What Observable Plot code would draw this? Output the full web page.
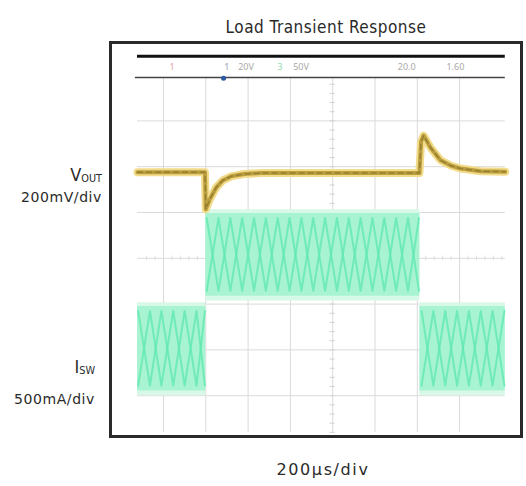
<!DOCTYPE html>
<html><head><meta charset="utf-8">
<script src="https://cdn.jsdelivr.net/npm/d3@7"></script>
<script src="https://cdn.jsdelivr.net/npm/@observablehq/plot@0.6"></script>
<style>
body{margin:0;background:#fff;font-family:"DejaVu Sans Condensed","DejaVu Sans",sans-serif;}
#wrap{position:relative;width:526px;height:486px;overflow:hidden;background:#fff;}
.lbl{position:absolute;color:#2a2a2a;white-space:nowrap;line-height:1;}
.u{font-family:"DejaVu Sans",sans-serif;font-size:14px;letter-spacing:0.6px;}
#chart{position:absolute;left:0;top:40px;}
#frame{position:absolute;left:109px;top:41px;width:414px;height:397px;border:3px solid #2a2a2a;box-sizing:border-box;pointer-events:none;}
sub{font-size:0.6em;vertical-align:-0.1em;}
</style></head><body>
<div id="wrap">
  <div class="lbl" style="left:0;width:652px;top:19px;text-align:center;font-size:17px;letter-spacing:0.5px;">Load Transient Response</div>
  <div id="chart"></div>
  <div id="frame"></div>
  <div class="lbl" style="right:424px;top:166px;font-size:18px;">V<sub>OUT</sub></div>
  <div class="lbl u" style="right:424px;top:190px;">200mV/div</div>
  <div class="lbl" style="right:431px;top:358px;font-size:18px;">I<sub>SW</sub></div>
  <div class="lbl u" style="right:431px;top:392px;">500mA/div</div>
  <div class="lbl" style="left:0;width:646px;top:462px;text-align:center;font-family:'DejaVu Sans',sans-serif;font-size:16px;letter-spacing:1.6px;">200µs/div</div>
</div>
<script>
// ---- data (x and y in scope divisions) ----
const voutX = [0.385, 1.98, 2.0, 2.1, 2.25, 2.4, 2.6, 2.9, 3.3, 4.5, 6.0, 7.05, 7.09, 7.15, 7.31, 7.55, 7.8, 8.02, 8.5, 9.08];
const voutY = [5.88, 5.88, 5.07, 5.30, 5.55, 5.70, 5.79, 5.84, 5.86, 5.86, 5.86, 5.86, 6.55, 6.68, 6.42, 6.14, 6.02, 5.96, 5.90, 5.89];

const bandStart = [0.385, 2.0, 7.06];
const bandEnd   = [2.0, 7.06, 9.08];
const bandLo    = [1.10, 3.17, 1.10];
const bandHi    = [2.95, 4.98, 2.95];

const rippleX = [
  [0.40, 0.68, 0.95, 1.23, 1.50, 1.78, 1.98],
  [2.02, 2.30, 2.58, 2.86, 3.14, 3.42, 3.70, 3.98, 4.26, 4.54, 4.82, 5.10, 5.38, 5.66, 5.94, 6.22, 6.50, 6.78, 7.04],
  [7.10, 7.38, 7.66, 7.94, 8.22, 8.50, 8.78, 9.06]
];

const gridX = [1, 2, 3, 4, 5, 6, 7, 8];
const gridY = [1, 2, 3, 4, 5, 6, 7];
const statusLabels = ["1", "1", "20V", "3", "50V", "20.0", "1.60"];
const statusX = [1.2, 2.5, 2.95, 3.75, 4.25, 6.75, 7.9];
const statusColors = ["#e6a0a8", "#9aa0c0", "#a8a8a8", "#90d8b0", "#a8a8a8", "#a8a8a8", "#a8a8a8"];
const trigMarker = [{x: 2.42, y: 7.93}];

// ---- build tables ----
const xL = 0.385, xR = 9.08, yB = 0.2, yStatusLow = 7.95, yStatusTop = 8.41;
const voutData = voutX.map((x, i) => ({x, y: voutY[i]}));
const bandRows = bandStart.flatMap((s, i) => [
  {seg: i, x: s, lo: bandLo[i], hi: bandHi[i]},
  {seg: i, x: bandEnd[i], lo: bandLo[i], hi: bandHi[i]}
]);
const zig = [];
rippleX.forEach((xs, s) => xs.forEach((x, k) => {
  const hi = bandHi[s] - 0.1, lo = bandLo[s] + 0.12;
  zig.push({z: "a" + s, x, y: k % 2 === 0 ? hi : lo});
  zig.push({z: "b" + s, x, y: k % 2 === 0 ? lo : hi});
}));
const minorV = d3.range(0.2, 7.95, 0.2);
const minorH = d3.range(0.6, 9.08, 0.2);

const chart = Plot.plot({
  width: 526, height: 400, margin: 0,
  x: {domain: [-120.7 / 42.3, (526 - 120.7) / 42.3], range: [0, 526], axis: null},
  y: {domain: [0, 401 / 45.8], range: [401, 0], axis: null},
  marks: [
    Plot.ruleX(gridX, {y1: yB, y2: yStatusLow, stroke: "#dadada", strokeWidth: 1}),
    Plot.ruleY(gridY, {x1: xL, x2: xR, stroke: "#dadada", strokeWidth: 1}),
    Plot.ruleY(minorV, {x1: 4.94, x2: 5.06, stroke: "#d2d2d2"}),
    Plot.ruleX(minorH, {y1: 3.95, y2: 4.05, stroke: "#dedede"}),
    Plot.areaY(bandRows, {x: "x", y1: d => d.lo - 0.1, y2: d => d.hi + 0.08, z: "seg", fill: "#d8f9e8"}),
    Plot.areaY(bandRows, {x: "x", y1: "lo", y2: "hi", z: "seg", fill: "#a8f3d2"}),
    Plot.line(zig, {x: "x", y: "y", z: "z", stroke: "#62e8b2", strokeWidth: 2, strokeOpacity: 0.8}),
    Plot.line(voutData, {x: "x", y: "y", stroke: "#f2dc8c", strokeWidth: 8, strokeLinejoin: "round"}),
    Plot.line(voutData, {x: "x", y: "y", stroke: "#bca040", strokeWidth: 4, strokeLinejoin: "round"}),
    Plot.line(voutData, {x: "x", y: "y", stroke: "#7a6520", strokeWidth: 1.5, strokeDasharray: "5,4", strokeOpacity: 0.55}),
    Plot.ruleY([yStatusTop], {x1: xL, x2: xR, stroke: "#111", strokeWidth: 3}),
    Plot.ruleY([yStatusLow], {x1: xL - 0.05, x2: xR, stroke: "#444", strokeWidth: 1.5}),
    Plot.text(statusLabels, {x: (d, i) => statusX[i], y: 8.18, fill: (d, i) => statusColors[i], fontSize: 9}),
    Plot.dot(trigMarker, {x: "x", y: "y", r: 2.5, fill: "#2b5aa0"})
  ]
});
document.getElementById("chart").append(chart);
</script>
</body></html>
